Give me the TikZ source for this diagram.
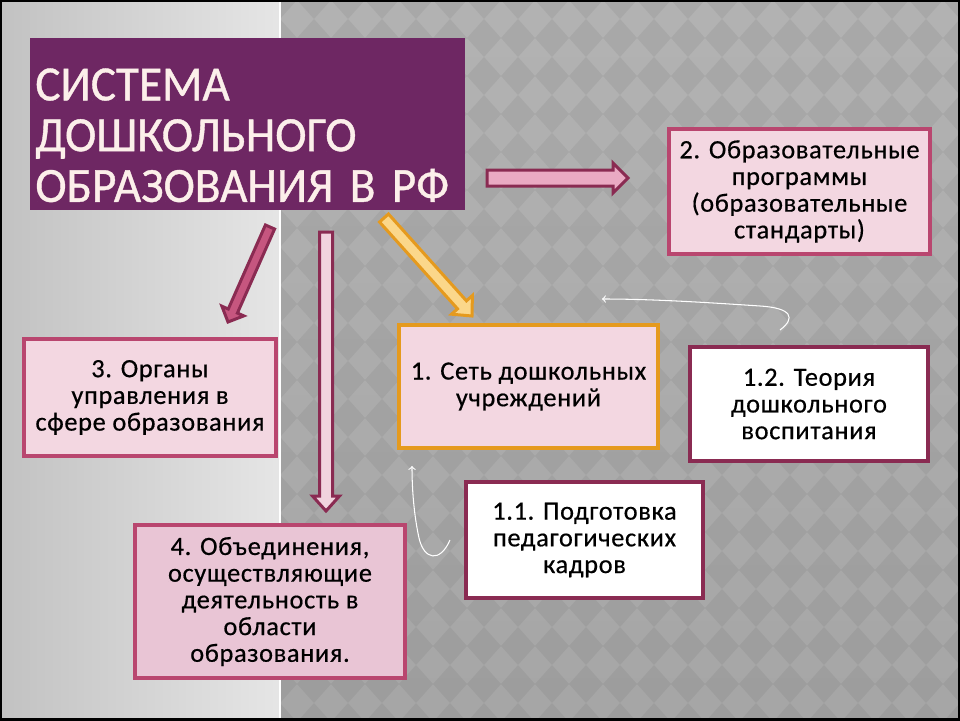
\documentclass[tikz,border=0pt]{standalone}
\usepackage{fontspec}
\setmainfont[LetterSpace=2.5,FakeBold=0.5]{Carlito}
\newfontfamily\titlefont[FakeStretch=0.96,FakeBold=0.8]{Carlito}
\usetikzlibrary{calc}

\definecolor{titlepurple}{HTML}{6E2763}
\definecolor{titletext}{HTML}{FCEFEA}
\definecolor{boxpink}{HTML}{F3D7E1}
\definecolor{boxpinkdark}{HTML}{E9C5D5}
\definecolor{boxrose}{HTML}{B9466F}
\definecolor{boxmaroon}{HTML}{8A2B52}
\definecolor{boxorange}{HTML}{E59A1E}
\definecolor{arrowpink}{HTML}{EAAAC3}
\definecolor{arrowrose}{HTML}{C6567F}
\definecolor{arrowpale}{HTML}{F1D3DE}
\definecolor{arrowyellow}{HTML}{FBD78A}

% block arrow from #2 to #3: shaft half width #4, head half width #5, head length #6
\newcommand{\blockarrow}[6][]{%
  \coordinate (bah) at ($(#3)!#6!(#2)$);
  \draw[#1] ($(#2)!#4!90:(#3)$) -- ($(bah)!#4!90:(#3)$) -- ($(bah)!#5!90:(#3)$)
    -- (#3) -- ($(bah)!#5!-90:(#3)$) -- ($(bah)!#4!-90:(#3)$)
    -- ($(#2)!#4!-90:(#3)$) -- cycle;}

\begin{document}
\begin{tikzpicture}[x=0.02cm,y=-0.02cm,
  box/.style={draw,line width=0.08cm,align=center,inner sep=0pt,
    font=\fontsize{15}{15.2}\selectfont},
  pinkbox/.style={box,draw=boxrose,fill=boxpink},
  whitebox/.style={box,draw=boxmaroon,fill=white},
  barrow/.style={draw=boxmaroon,line width=0.06cm},
  thinarrow/.style={->,white,line width=0.6pt}]
  % Draw background
  \useasboundingbox (0,0) rectangle (960,720);
  \shade[left color=black!24,right color=black!10] (0,0) rectangle (280,720);
  \shade[top color=black!30,bottom color=black!35] (280,0) rectangle (960,720);
  \begin{scope}
    \clip (280,0) rectangle (960,720);
    \foreach \i in {0,...,20}
      \foreach \j in {0,...,19}
        \fill[black,opacity=0.05] (280+\i*34,\j*38-19) -- ++(17,19) -- ++(-17,19) -- ++(-17,-19) -- cycle;
  \end{scope}
  \draw[white,line width=1pt] (280,0) -- (280,720);
  \draw[line width=0.08cm] (0,0) rectangle (960,720);

  % Draw boxes
  \node (title) [anchor=north west,fill=titlepurple,text=titletext,align=left,
    text width=8.5cm,inner xsep=0.1cm,inner ysep=0pt,text height=1.24cm,text depth=2.2cm,
    font=\titlefont\fontsize{28}{28.9}\selectfont] at (30,38) {СИСТЕМА\\ДОШКОЛЬНОГО\\ОБРАЗОВАНИЯ В РФ};
  \node (prog) [pinkbox,minimum width=5.22cm,minimum height=2.5cm] at (799.5,191.5)
    {2. Образовательные\\программы\\(образовательные\\стандарты)};
  \node (organ) [pinkbox,minimum width=5.04cm,minimum height=2.34cm] at (150,397.5)
    {3. Органы\\управления в\\сфере образования};
  \node (net) [pinkbox,draw=boxorange,minimum width=5.18cm,minimum height=2.46cm] at (528.5,386.5)
    {1. Сеть дошкольных\\учреждений};
  \node (theory) [whitebox,minimum width=4.76cm,minimum height=2.3cm] at (809,404)
    {1.2. Теория\\дошкольного\\воспитания};
  \node (staff) [whitebox,minimum width=4.74cm,minimum height=2.32cm] at (584.5,540)
    {1.1. Подготовка\\педагогических\\кадров};
  \node (union) [pinkbox,fill=boxpinkdark,minimum width=5.4cm,minimum height=3.06cm] at (270,601.5)
    {4. Объединения,\\осуществляющие\\деятельность в\\области\\образования.};

  % Draw block arrows
  \coordinate (toprog) at (487,178);
  \coordinate (atprog) at (628,178);
  \blockarrow[barrow,fill=arrowpink]{toprog}{atprog}{0.16cm}{0.30cm}{0.30cm}
  \coordinate (toorgan) at (270,227);
  \coordinate (atorgan) at (228,322);
  \blockarrow[barrow,fill=arrowrose]{toorgan}{atorgan}{0.1cm}{0.24cm}{0.24cm}
  \coordinate (tounion) at (326,232);
  \coordinate (atunion) at (326,511);
  \blockarrow[barrow,fill=arrowpale]{tounion}{atunion}{0.13cm}{0.27cm}{0.30cm}
  \coordinate (tonet) at (384,218);
  \coordinate (atnet) at (472,316);
  \blockarrow[barrow,draw=boxorange,fill=arrowyellow]{tonet}{atnet}{0.12cm}{0.28cm}{0.30cm}

  % Draw thin arrows
  \coordinate (theoryout) at (780,330);
  \coordinate (netabove) at (602,299);
  \draw[thinarrow] (theoryout) .. controls (796,318) and (792,308) .. (760,306)
    .. controls (700,302) and (650,299) .. (netabove);
  \coordinate (staffout) at (450,540);
  \coordinate (netbelow) at (412,466);
  \draw[thinarrow] (staffout) .. controls (440,563) and (424,560) .. (419,538)
    .. controls (414,515) and (412,490) .. (netbelow);
\end{tikzpicture}
\end{document}
